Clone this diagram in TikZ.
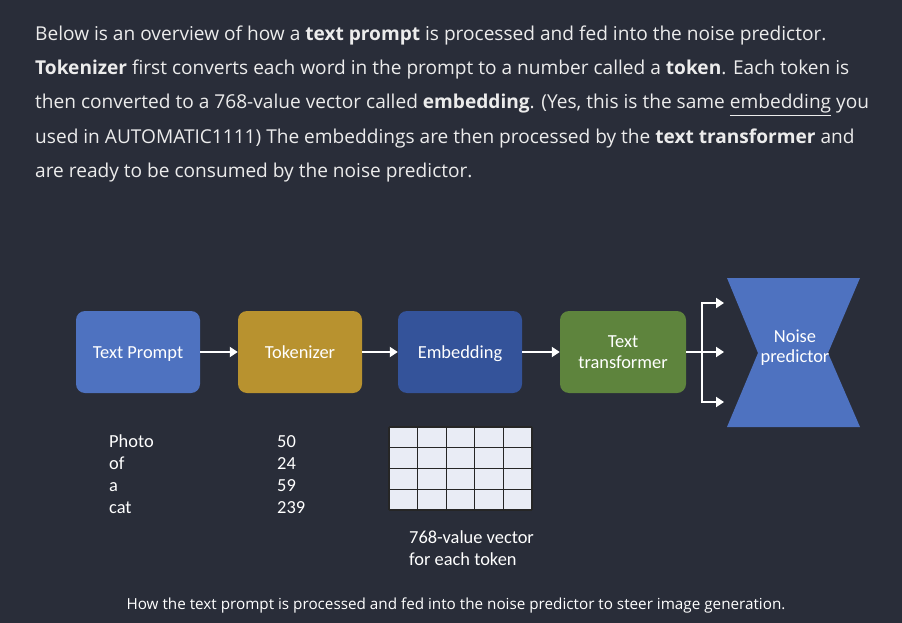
\documentclass[tikz,border=0pt]{standalone}
\usepackage{fontspec}
\setmainfont{Open Sans}
\newfontfamily\calfont{Carlito}
\usetikzlibrary{arrows.meta}
\definecolor{bg}{HTML}{292D39}
\definecolor{txt}{HTML}{ECECEC}
\definecolor{cblue}{HTML}{4E72C0}
\definecolor{cgold}{HTML}{B8922F}
\definecolor{cnavy}{HTML}{34539A}
\definecolor{cgreen}{HTML}{5E843D}
\definecolor{cgrid}{HTML}{E9ECF5}
\tikzset{
  box/.style={rounded corners=9pt, minimum width=124pt, minimum height=82pt, text=white,
    font=\calfont\fontsize{18.4}{21.5}\selectfont, align=center, inner sep=2pt},
  oneline/.style={text height=16.5pt, text depth=3pt},
  arr/.style={-{Triangle[length=8pt,width=10pt]}, white, line width=2pt},
  body/.style={anchor=base west, text=txt, font=\fontsize{19.1}{22}\selectfont, inner sep=0pt},
  lbl/.style={anchor=base west, text=white, font=\calfont\fontsize{18.4}{22}\selectfont, inner sep=0pt},
}
\begin{document}
\begin{tikzpicture}[x=1pt,y=-1pt]
\fill[bg] (0,0) rectangle (902,623);
\useasboundingbox (0,0) rectangle (902,623);
% paragraph
\node[body] (l1) at (35,41) {Below is an overview of how a \textbf{text prompt} is processed and fed into the noise predictor.};
\node[body] (l2) at (35,75) {\textbf{Tokenizer} first converts each word in the prompt to a number called a \textbf{token}. Each token is};
\node[body] (l3) at (35,109) {then converted to a 768-value vector called \textbf{embedding}. (Yes, this is the same \underline{embedding} you};
\node[body] (l4) at (35,143) {used in AUTOMATIC1111) The embeddings are then processed by the \textbf{text transformer} and};
\node[body] (l5) at (35,177) {are ready to be consumed by the noise predictor.};
% boxes
\node[box, oneline, fill=cblue] (tp) at (138,352) {Text Prompt};
\node[box, oneline, fill=cgold] (tok) at (300,352) {Tokenizer};
\node[box, oneline, fill=cnavy] (emb) at (460,352) {Embedding};
\node[box, fill=cgreen, minimum width=126pt] (tt) at (623,352) {Text\\transformer};
\draw[arr] (tp) -- (tok);
\draw[arr] (tok) -- (emb);
\draw[arr] (emb) -- (tt);
% hourglass
\fill[cblue] (727,278) -- (860,278) -- (828,353) -- (860,427) -- (727,427) -- (758,353) -- cycle;
\node[text=white, font=\calfont\fontsize{18.4}{20}\selectfont, align=center] (np) at (795,348) {Noise\\predictor};
% fork
\coordinate (f) at (702,352);
\coordinate (e1) at (724,303);
\coordinate (e2) at (724,352);
\coordinate (e3) at (724,402);
\draw[white, line width=2pt] (tt.east) -- (f);
\draw[arr] (f) |- (e1);
\draw[arr] (f) -- (e2);
\draw[arr] (f) |- (e3);
% word / token lists
\node[lbl] (w1) at (109,447) {Photo};
\node[lbl] (w2) at (109,469) {of};
\node[lbl] (w3) at (109,491) {a};
\node[lbl] (w4) at (109,513) {cat};
\node[lbl] (n1) at (277,447) {50};
\node[lbl] (n2) at (277,469) {24};
\node[lbl] (n3) at (277,491) {59};
\node[lbl] (n4) at (277,513) {239};
% grid
\fill[cgrid] (389,427) rectangle (532,510);
\foreach \i in {0,...,5} \draw[black!85, line width=1.1pt] ({389+\i*28.6},427) -- ({389+\i*28.6},510);
\foreach \j in {0,...,4} \draw[black!85, line width=1.1pt] (389,{427+\j*20.75}) -- (532,{427+\j*20.75});
\node[lbl] (v1) at (409,543) {768-value vector};
\node[lbl] (v2) at (409,565) {for each token};
% caption
\node[text=white, font=\fontsize{15.25}{18}\selectfont, inner sep=0pt] (cap) at (456,605) {How the text prompt is processed and fed into the noise predictor to steer image generation.};
\end{tikzpicture}
\end{document}
